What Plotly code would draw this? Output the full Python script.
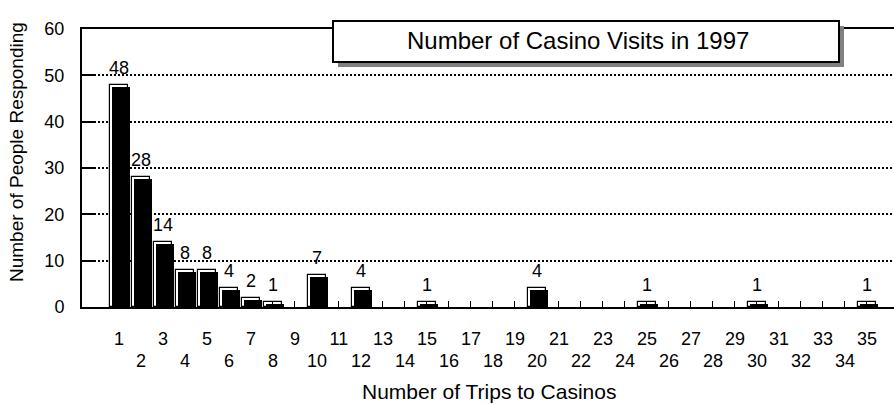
import plotly.graph_objects as go

# Survey results: how many trips each respondent made to a casino in 1997
trips = list(range(1, 36))
people = [48, 28, 14, 8, 8, 4, 2, 1, 0, 7, 0, 4, 0, 0, 1, 0, 0, 0, 0, 4,
          0, 0, 0, 0, 1, 0, 0, 0, 0, 1, 0, 0, 0, 0, 1]
y_ticks = [0, 10, 20, 30, 40, 50, 60]

chart_title = "Number of Casino Visits in 1997"
x_title = "Number of Trips to Casinos"
y_title = "Number of People Responding"

FONT = "Liberation Sans, Arial, Helvetica, sans-serif"

# Figure geometry
W, H = 894, 404
ML, MR, MT, MB = 82, 0, 29, 97
plot_w = W - ML - MR
plot_h = H - MT - MB
x_range = [-0.68, 36.23]
y_range = [0, 60]
px_x = plot_w / (x_range[1] - x_range[0])
px_y = plot_h / (y_range[1] - y_range[0])


def paper_x(px):
    return (px - ML) / plot_w


def paper_y(py):
    return (H - MB - py) / plot_h


# Bars are drawn as an outlined box with a slightly offset solid fill
bar_w = 0.79
shade = 2.0
dx = shade / px_x
dy = shade / px_y

shown = [(t, n) for t, n in zip(trips, people) if n > 0]
bx = [t for t, _ in shown]
by = [n for _, n in shown]

fig = go.Figure()
fig.add_trace(go.Bar(
    x=bx, y=by, width=bar_w,
    marker=dict(color="white", line=dict(color="black", width=1.2)),
    hoverinfo="skip", showlegend=False,
))
fig.add_trace(go.Bar(
    x=bx, y=[n - dy for n in by], width=bar_w, offset=-bar_w / 2 + dx,
    marker=dict(color="black", line=dict(width=0)),
    hovertemplate="%{x} trips<extra></extra>", showlegend=False,
))
# carrier for the second row of category labels
fig.add_trace(go.Scatter(
    x=trips, y=[0] * len(trips), xaxis="x2", mode="markers",
    marker=dict(opacity=0), hoverinfo="skip", showlegend=False,
))

annotations = []
for t, n in shown:
    annotations.append(dict(
        x=t, y=n, xref="x", yref="y", text=str(n), showarrow=False,
        yanchor="bottom", yshift=5, font=dict(size=18, color="black", family=FONT),
    ))

annotations.append(dict(
    x=paper_x(578), y=paper_y(41), xref="paper", yref="paper",
    text=chart_title, showarrow=False, xanchor="center", yanchor="middle",
    font=dict(size=24, color="black", family=FONT),
))
annotations.append(dict(
    x=paper_x(489), y=paper_y(391), xref="paper", yref="paper",
    text=x_title, showarrow=False, xanchor="center", yanchor="middle",
    font=dict(size=21, color="black", family=FONT),
))
annotations.append(dict(
    x=paper_x(16), y=paper_y(152), xref="paper", yref="paper",
    text=y_title, showarrow=False, textangle=-90, xanchor="center", yanchor="middle",
    font=dict(size=19, color="black", family=FONT),
))

# Title box with a grey drop shadow
shapes = [
    dict(type="rect", xref="paper", yref="paper", layer="above",
         x0=paper_x(338), x1=paper_x(844), y0=paper_y(26), y1=paper_y(67),
         fillcolor="#808080", line=dict(width=0)),
    dict(type="rect", xref="paper", yref="paper", layer="above",
         x0=paper_x(333), x1=paper_x(839), y0=paper_y(21), y1=paper_y(62),
         fillcolor="white", line=dict(color="black", width=2)),
]

fig.update_layout(
    width=W, height=H,
    margin=dict(l=ML, r=MR, t=MT, b=MB, autoexpand=False),
    paper_bgcolor="white", plot_bgcolor="white",
    barmode="overlay", bargap=0,
    font=dict(family=FONT, size=18, color="black"),
    annotations=annotations, shapes=shapes,
    xaxis=dict(
        range=x_range, tickmode="array", tickvals=trips,
        ticktext=[str(t) if t % 2 else "" for t in trips],
        ticks="inside", ticklen=6, tickwidth=1.3, tickcolor="black",
        showline=True, linecolor="black", linewidth=2, mirror=True,
        showgrid=False, zeroline=False, ticklabelstandoff=14,
        tickfont=dict(size=18, color="black", family=FONT),
    ),
    xaxis2=dict(
        range=x_range, overlaying="x", anchor="y", side="bottom",
        tickmode="array", tickvals=[t for t in trips if t % 2 == 0],
        ticktext=[str(t) for t in trips if t % 2 == 0],
        ticks="", showline=False, showgrid=False, zeroline=False,
        ticklabelstandoff=41,
        tickfont=dict(size=18, color="black", family=FONT),
    ),
    yaxis=dict(
        range=y_range, tickmode="array", tickvals=y_ticks,
        ticks="inside", ticklen=12, tickwidth=1.5, tickcolor="black",
        showline=True, linecolor="black", linewidth=2, mirror=False,
        showgrid=True, gridcolor="black", gridwidth=2, griddash="2px,2px",
        zeroline=False, ticklabelstandoff=12,
        tickfont=dict(size=18, color="black", family=FONT),
    ),
)

fig.write_html("out.html")
